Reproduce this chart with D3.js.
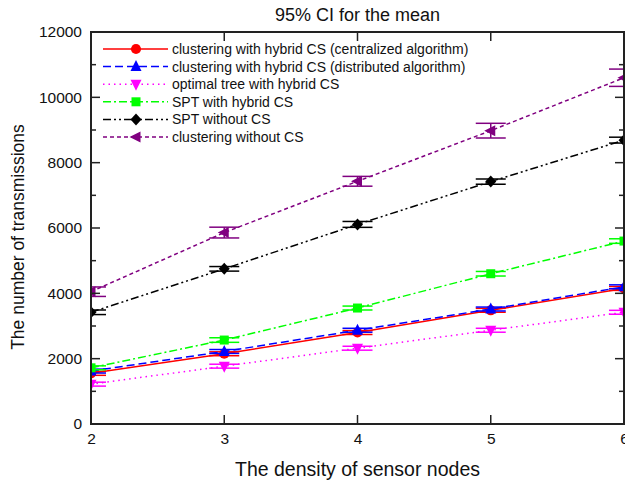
<!DOCTYPE html>
<html>
<head>
<meta charset="utf-8">
<script src="https://cdn.jsdelivr.net/npm/d3@7"></script>
<style>
  body { margin: 0; background: #fff; }
  svg { font-family: "Liberation Sans", Arial, sans-serif; }
</style>
</head>
<body>
<svg width="625" height="484"></svg>
<script>
// data
const densities = [2, 3, 4, 5, 6];
const yTicks = [0, 2000, 4000, 6000, 8000, 10000, 12000];

const seriesNames = [
  "clustering with hybrid CS (centralized algorithm)",
  "clustering with hybrid CS (distributed algorithm)",
  "optimal tree with hybrid CS",
  "SPT with hybrid CS",
  "SPT without CS",
  "clustering without CS"
];
const centralized = [1550, 2150, 2800, 3480, 4150];
const distributed = [1620, 2220, 2870, 3520, 4200];
const optimalTree = [1220, 1770, 2320, 2870, 3420];
const sptHybrid = [1720, 2570, 3550, 4600, 5600];
const sptNoCS = [3420, 4750, 6110, 7420, 8690];
const clusterNoCS = [4050, 5860, 7430, 8980, 10600];

// half-width of the 95% CI
const centralizedErr = [60, 60, 60, 60, 60];
const distributedErr = [60, 60, 60, 60, 60];
const optimalTreeErr = [60, 60, 60, 60, 60];
const sptHybridErr = [60, 70, 60, 70, 70];
const sptNoCSErr = [70, 70, 90, 80, 90];
const clusterNoCSErr = [145, 165, 150, 225, 265];

const colors = ["#ff0000", "#0000ff", "#ff00ff", "#00ff00", "#000000", "#800080"];
const dashes = ["", "8,4", "1.5,4", "8,3,2,3", "8,3,2,3,2,3", "4,3"];
const symbols = ["circle", "up", "down", "square", "diamond", "left"];

const values = [centralized, distributed, optimalTree, sptHybrid, sptNoCS, clusterNoCS];
const errors = [centralizedErr, distributedErr, optimalTreeErr, sptHybridErr, sptNoCSErr, clusterNoCSErr];

const series = seriesNames.map((name, i) => ({
  name: name,
  color: colors[i],
  dash: dashes[i],
  symbol: symbols[i],
  points: densities.map((d, j) => ({ x: d, y: values[i][j], e: errors[i][j] }))
}));

const margin = { top: 32, right: 1, bottom: 60, left: 91 };
const width = 625 - margin.left - margin.right;
const height = 484 - margin.top - margin.bottom;

const svg = d3.select("svg");

const xScale = d3.scaleLinear().domain([2, 6]).range([0, width]);
const yScale = d3.scaleLinear().domain([0, 12000]).range([height, 0]);

const chart = svg.append("g")
  .attr("transform", `translate(${margin.left}, ${margin.top})`);

chart.append("clipPath").attr("id", "clip")
  .append("rect").attr("width", width).attr("height", height);

// marker paths
function markerPath(type) {
  const s = 5.5;
  if (type === "circle") return d3.symbol(d3.symbolCircle, 80)();
  if (type === "square") return `M${-4.5},${-4.5}H4.5V4.5H-4.5Z`;
  if (type === "diamond") return `M0,${-s - 0.5}L${s},0L0,${s + 0.5}L${-s},0Z`;
  if (type === "up") return `M0,${-s - 1}L${s},${s - 1}L${-s},${s - 1}Z`;
  if (type === "down") return `M0,${s + 1}L${s},${-s + 1}L${-s},${-s + 1}Z`;
  if (type === "left") return `M${-s - 1},0L${s - 1},${-s}L${s - 1},${s}Z`;
}

const plot = chart.append("g").attr("clip-path", "url(#clip)");

const line = d3.line().x(d => xScale(d.x)).y(d => yScale(d.y));
const capHalf = 15;

series.forEach(s => {
  const g = plot.append("g");
  g.append("path")
    .datum(s.points)
    .attr("fill", "none")
    .attr("stroke", s.color)
    .attr("stroke-width", 1.5)
    .attr("stroke-dasharray", s.dash || null)
    .attr("d", line);

  const eb = g.selectAll(".eb").data(s.points).enter().append("g")
    .attr("stroke", s.color).attr("stroke-width", 1.5);
  eb.append("line")
    .attr("x1", d => xScale(d.x)).attr("x2", d => xScale(d.x))
    .attr("y1", d => yScale(d.y - d.e)).attr("y2", d => yScale(d.y + d.e));
  eb.append("line")
    .attr("x1", d => xScale(d.x) - capHalf).attr("x2", d => xScale(d.x) + capHalf)
    .attr("y1", d => yScale(d.y + d.e)).attr("y2", d => yScale(d.y + d.e));
  eb.append("line")
    .attr("x1", d => xScale(d.x) - capHalf).attr("x2", d => xScale(d.x) + capHalf)
    .attr("y1", d => yScale(d.y - d.e)).attr("y2", d => yScale(d.y - d.e));

  g.selectAll(".mk").data(s.points).enter().append("path")
    .attr("transform", d => `translate(${xScale(d.x)}, ${yScale(d.y)})`)
    .attr("d", markerPath(s.symbol))
    .attr("fill", s.color);
});

// axes
const axisColor = "#222";
const yMinor = d3.range(0, 12001, 1000);

chart.append("g")
  .call(d3.axisLeft(yScale).tickValues(yTicks).tickFormat(d3.format("d")).tickSize(0).tickPadding(9))
  .call(g => g.select(".domain").remove())
  .selectAll("text")
  .attr("font-size", 15.5)
  .attr("fill", "#111")
  .attr("font-family", "Liberation Sans, Arial, sans-serif");

chart.append("g")
  .attr("transform", `translate(0, ${height})`)
  .call(d3.axisBottom(xScale).tickValues(densities).tickFormat(d3.format("d")).tickSize(0).tickPadding(9))
  .call(g => g.select(".domain").remove())
  .selectAll("text")
  .attr("font-size", 15.5)
  .attr("fill", "#111")
  .attr("font-family", "Liberation Sans, Arial, sans-serif");

// inward ticks on all sides
const ticks = chart.append("g").attr("stroke", axisColor).attr("stroke-width", 1.5);
yMinor.forEach(v => {
  const len = v % 2000 === 0 ? 9 : 5;
  ticks.append("line").attr("x1", 0).attr("x2", len).attr("y1", yScale(v)).attr("y2", yScale(v));
  ticks.append("line").attr("x1", width).attr("x2", width - len).attr("y1", yScale(v)).attr("y2", yScale(v));
});
densities.forEach(v => {
  ticks.append("line").attr("x1", xScale(v)).attr("x2", xScale(v)).attr("y1", height).attr("y2", height - 9);
  ticks.append("line").attr("x1", xScale(v)).attr("x2", xScale(v)).attr("y1", 0).attr("y2", 9);
});

chart.append("rect")
  .attr("width", width).attr("height", height)
  .attr("fill", "none").attr("stroke", axisColor).attr("stroke-width", 2);

// legend
const legend = chart.append("g").attr("transform", "translate(12, 17)");
series.forEach((s, i) => {
  const row = legend.append("g").attr("transform", `translate(0, ${i * 17.6})`);
  row.append("line")
    .attr("x1", 0).attr("x2", 65).attr("y1", 0).attr("y2", 0)
    .attr("stroke", s.color).attr("stroke-width", 1.5)
    .attr("stroke-dasharray", s.dash || null);
  row.append("path")
    .attr("transform", "translate(33, 0)")
    .attr("d", markerPath(s.symbol))
    .attr("fill", s.color);
  row.append("text")
    .attr("x", 69).attr("y", 0).attr("dy", "0.35em")
    .attr("font-size", 14).attr("fill", "#111")
    .text(s.name);
});

// labels
svg.append("text")
  .attr("x", margin.left + width / 2)
  .attr("y", 21)
  .attr("text-anchor", "middle")
  .attr("font-size", 18)
  .attr("fill", "#111")
  .text("95% CI for the mean");

svg.append("text")
  .attr("x", margin.left + width / 2)
  .attr("y", 476)
  .attr("text-anchor", "middle")
  .attr("font-size", 19.5)
  .attr("fill", "#111")
  .text("The density of sensor nodes");

svg.append("text")
  .attr("transform", `translate(24, ${margin.top + height / 2 + 9}) rotate(-90)`)
  .attr("text-anchor", "middle")
  .attr("font-size", 17.5)
  .attr("fill", "#111")
  .text("The number of transmissions");
</script>
</body>
</html>
